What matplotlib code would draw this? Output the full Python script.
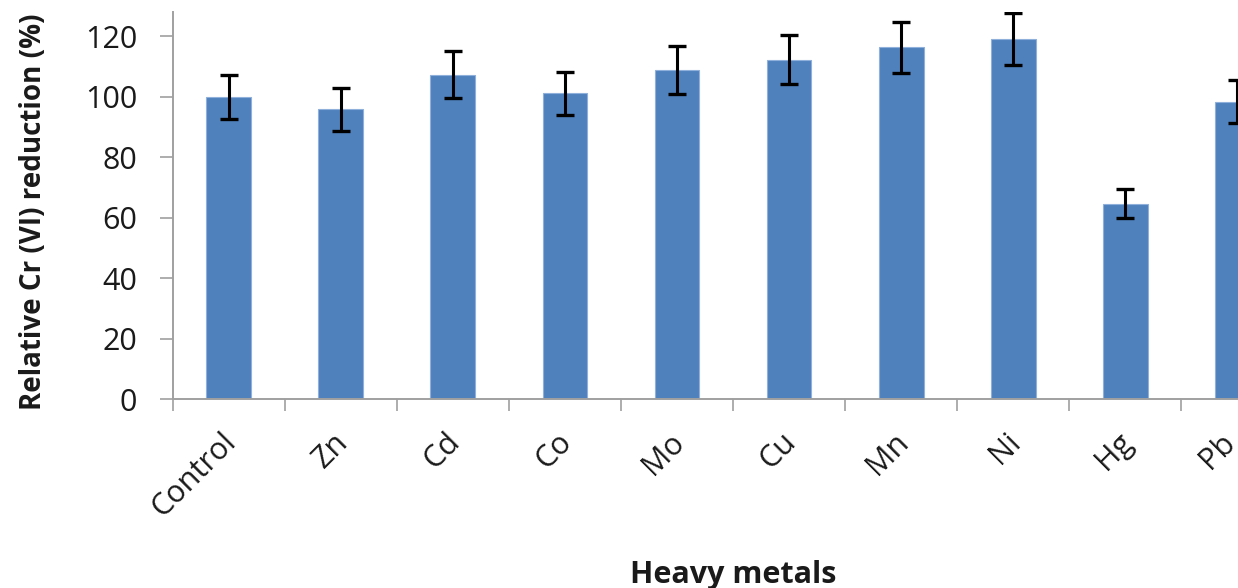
import matplotlib
matplotlib.use("Agg")
import matplotlib.pyplot as plt
import matplotlib.transforms as mtransforms
import numpy as np

categories = ["Control", "Zn", "Cd", "Co", "Mo", "Cu", "Mn", "Ni", "Hg", "Pb"]
values = [100.0, 95.8, 107.3, 101.1, 108.8, 112.3, 116.4, 119.1, 64.7, 98.3]
errors = [7.3, 7.0, 7.8, 7.2, 7.9, 8.0, 8.4, 8.6, 4.8, 7.1]
yticks = [0, 20, 40, 60, 80, 100, 120]

plt.rcParams['font.family'] = ['Open Sans', 'DejaVu Sans']

W, H = 1238, 588
fig = plt.figure(figsize=(W / 100, H / 100), dpi=100)
left_px, right_px = 172.7, 1293.4
bottom_px, top_px = 399.3, 12.0
ax = fig.add_axes([left_px / W, (H - bottom_px) / H,
                   (right_px - left_px) / W, (bottom_px - top_px) / H])

x = np.arange(len(categories))
ax.bar(x, values, width=0.4, color='#4F81BD', edgecolor='#8EB0DA', linewidth=0.8,
       zorder=2)
ax.errorbar(x, values, yerr=errors, fmt='none', ecolor='black', elinewidth=2.2,
            capsize=6.5, capthick=2.4, zorder=3)

ax.set_xlim(-0.5, len(categories) - 0.5)
ax.set_ylim(0, 128)
ax.set_yticks(yticks)
ax.tick_params(axis='y', length=9.5, width=1.2, color='#A0A0A0', labelsize=22,
               pad=16, labelcolor='#1a1a1a')

# category ticks between bars
ax.set_xticks(np.arange(-0.5, len(categories), 1.0))
ax.set_xticklabels([])
ax.tick_params(axis='x', which='major', length=8.5, width=1.2, color='#A0A0A0')
ax.set_xticks(x, minor=True)
ax.set_xticklabels(categories, minor=True, rotation=45, ha='right',
                   rotation_mode='anchor', fontsize=22, color='#1a1a1a')
ax.tick_params(axis='x', which='minor', length=0, pad=20)
labels = ax.get_xticklabels(minor=True)
for i, lab in enumerate(labels):
    dx = -8 if i < len(labels) - 1 else -17
    shift = mtransforms.ScaledTranslation(dx / 100, 0, fig.dpi_scale_trans)
    lab.set_transform(lab.get_transform() + shift)

for s in ['top', 'right']:
    ax.spines[s].set_visible(False)
for s in ['left', 'bottom']:
    ax.spines[s].set_color('#A0A0A0')
    ax.spines[s].set_linewidth(1.4)

ax.set_ylabel("Relative Cr (VI) reduction (%)", fontsize=20, fontweight='bold',
              color='#1a1a1a', va='center')
ax.yaxis.set_label_coords((33 - left_px) / (right_px - left_px),
                          (bottom_px - 211.5) / (bottom_px - top_px))
fig.text((left_px + right_px) / 2 / W, 1 - 575 / H, "Heavy metals",
         ha='center', va='center', fontsize=22, fontweight='bold', color='#1a1a1a')

fig.savefig("out.png", dpi=100)
